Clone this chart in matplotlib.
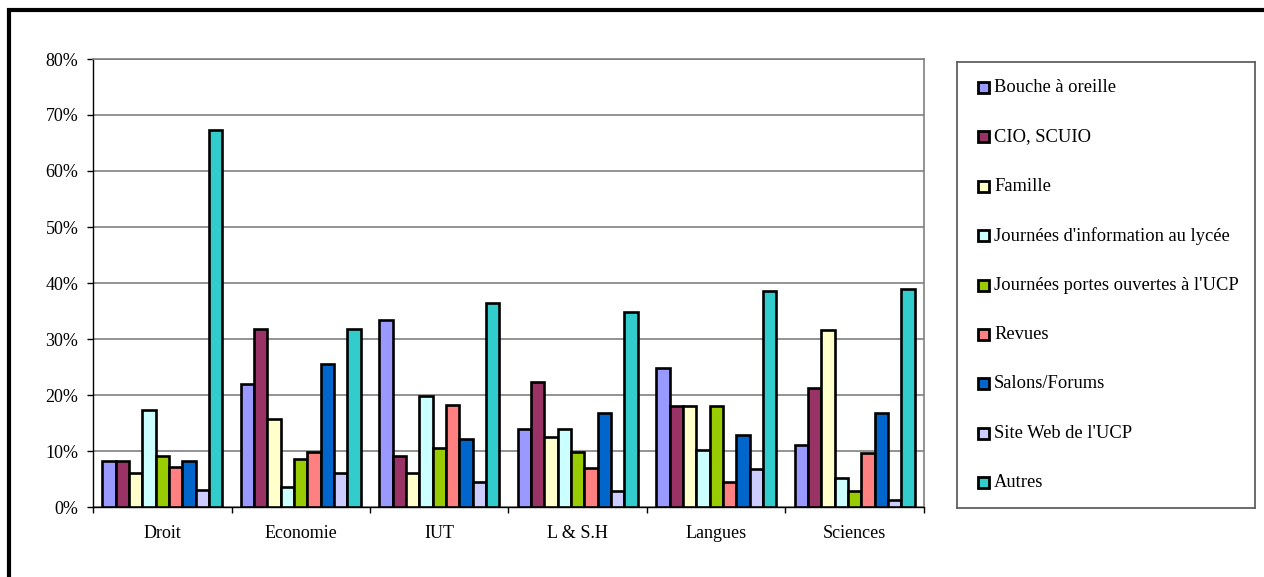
import matplotlib.pyplot as plt
import numpy as np
from matplotlib.patches import Rectangle
from matplotlib.ticker import PercentFormatter

plt.rcParams['font.family'] = ['Liberation Serif', 'DejaVu Serif']

categories = ['Droit', 'Economie', 'IUT', 'L & S.H', 'Langues', 'Sciences']
series = ['Bouche à oreille', 'CIO, SCUIO', 'Famille',
          "Journées d'information au lycée", "Journées portes ouvertes à l'UCP",
          'Revues', 'Salons/Forums', "Site Web de l'UCP", 'Autres']
colors = ['#9999FF', '#993366', '#FFFFCC', '#CCFFFF', '#99CC00',
          '#FF8080', '#0066CC', '#CCCCFF', '#33CCCC']

# one row per series, one value per category (percent)
bouche = [8.2, 21.9, 33.4, 13.9, 24.9, 11.1]
cio = [8.2, 31.7, 9.1, 22.3, 18.0, 21.3]
famille = [6.1, 15.7, 6.0, 12.5, 18.0, 31.6]
journees_info = [17.3, 3.5, 19.8, 13.9, 10.2, 5.1]
portes_ouvertes = [9.1, 8.5, 10.6, 9.8, 18.0, 2.9]
revues = [7.2, 9.8, 18.3, 6.9, 4.4, 9.6]
salons = [8.2, 25.6, 12.2, 16.7, 12.9, 16.8]
site_web = [3.1, 6.1, 4.5, 2.8, 6.8, 1.3]
autres = [67.3, 31.7, 36.5, 34.9, 38.6, 38.9]
values = [bouche, cio, famille, journees_info, portes_ouvertes,
          revues, salons, site_web, autres]

W, H = 1264, 577
fig = plt.figure(figsize=(W / 100, H / 100), dpi=100)
ax = fig.add_axes([93 / W, 1 - 507 / H, (924 - 93) / W, (507 - 59) / H])

x = np.arange(len(categories))
n = len(series)
bw = 0.0963
for i, (vals, col) in enumerate(zip(values, colors)):
    off = (i - (n - 1) / 2) * bw
    ax.bar(x + off, vals, bw, color=col, edgecolor='black', linewidth=1.9, zorder=3)

ax.set_xlim(-0.5, len(categories) - 0.5)
ax.set_ylim(0, 80)
ax.set_yticks(np.arange(0, 81, 10))
ax.yaxis.set_major_formatter(PercentFormatter(decimals=0))
ax.yaxis.grid(True, color='#808080', linewidth=1.2, zorder=0)
ax.set_axisbelow(True)

ax.set_xticks(np.arange(len(categories) + 1) - 0.5)
ax.set_xticklabels([])
ax.set_xticks(x, minor=True)
ax.set_xticklabels(categories, minor=True)
ax.tick_params(axis='x', which='major', direction='out', length=4.5, width=1, color='black')
ax.tick_params(axis='x', which='minor', length=0, pad=13, labelsize=13)
ax.tick_params(axis='y', direction='out', length=4.5, width=1, pad=6, labelsize=13)

for s in ['left', 'bottom']:
    ax.spines[s].set_color('black')
    ax.spines[s].set_linewidth(1)
for s in ['top', 'right']:
    ax.spines[s].set_color('#808080')
    ax.spines[s].set_linewidth(1.2)

# legend box drawn by hand
lax = fig.add_axes([957 / W, 1 - 508 / H, (1255 - 957) / W, (508 - 62) / H])
lax.set_xlim(957, 1255)
lax.set_ylim(508, 62)
lax.set_xticks([])
lax.set_yticks([])
for s in lax.spines.values():
    s.set_color('#606060')
    s.set_linewidth(1.3)
for i, (name, col) in enumerate(zip(series, colors)):
    yc = 87.5 + i * 49.4
    lax.add_patch(Rectangle((978, yc - 5.5), 10.5, 11, facecolor=col,
                            edgecolor='black', linewidth=2))
    lax.text(994, yc, name, fontsize=13.3, va='center', ha='left')

# outer frame (right and bottom edges fall outside the image)
fig.patches.append(Rectangle((9.3 / W, -0.2), 2, 1.2 - 10.2 / H, transform=fig.transFigure,
                             fill=False, edgecolor='black', linewidth=3))

fig.savefig('out.png', dpi=100)
